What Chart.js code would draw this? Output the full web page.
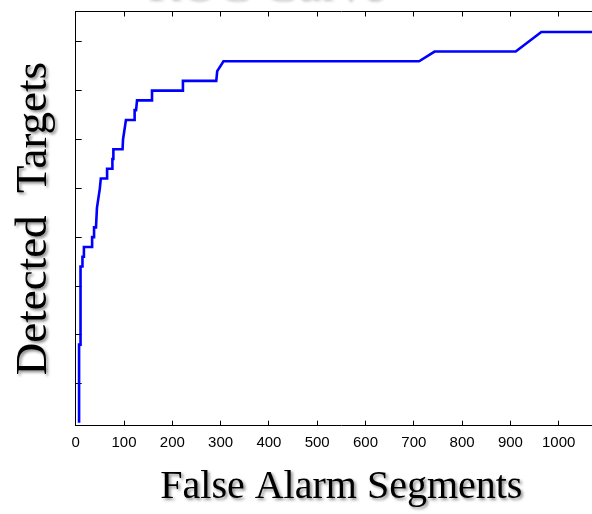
<!DOCTYPE html>
<html>
<head>
<meta charset="utf-8">
<script src="https://cdn.jsdelivr.net/npm/chart.js@4/dist/chart.umd.min.js"></script>
<style>
  html, body { margin: 0; padding: 0; background: #fff; overflow: hidden; }
  #wrap { position: relative; width: 592px; height: 514px; overflow: hidden; }
  #plot { position: absolute; left: 0; top: 0; }
  #heading {
    position: absolute; left: 0; width: 530px; top: -43px;
    font: 50px/50px "Liberation Serif", serif; color: #c4c4c4;
    text-align: center; white-space: nowrap;
    text-shadow: 2px 2px 3px rgba(0,0,0,0.25);
  }
</style>
</head>
<body>
<div id="wrap">
  <canvas id="plot" width="620" height="514"></canvas>
  <div id="heading">ROC Curve</div>
</div>
<script>
// ROC curve: cumulative detected targets against false alarm segments
const falseAlarms = [7, 7, 10, 10, 14, 14, 17, 17, 34, 34, 38, 38, 42, 44, 47, 50, 52, 65, 65, 76, 76, 78, 78, 97, 98, 101, 104, 122, 122, 125, 127, 158, 158, 222, 222, 291, 293, 306, 711, 743, 911, 964, 1100];
const detected    = [1, 9, 9, 17, 17, 18, 18, 19, 19, 20, 20, 21, 21, 23, 24, 25, 26, 26, 27, 27, 28, 28, 29, 29, 30, 31, 32, 32, 33, 33, 34, 34, 35, 35, 36, 36, 37, 38, 38, 39, 39, 41, 41];

const xRange = [0, 1100];
const yRange = [0.7, 43.1];
const xStep = 100;
const yStep = 5;
const lastLabelled = 1000;

const serif = '"Liberation Serif", "Times New Roman", serif';
const sans = '"Liberation Sans", Arial, Helvetica, sans-serif';

// Axis titles get a soft drop shadow
const ScaleBase = Chart.Scale || Object.getPrototypeOf(Chart.LinearScale.prototype).constructor;
const plainDrawTitle = ScaleBase.prototype.drawTitle;
ScaleBase.prototype.drawTitle = function () {
  const ctx = this.ctx;
  ctx.save();
  ctx.shadowColor = 'rgba(0,0,0,0.45)';
  ctx.shadowOffsetX = 2;
  ctx.shadowOffsetY = 2;
  ctx.shadowBlur = 3;
  plainDrawTitle.call(this);
  ctx.restore();
};

const points = falseAlarms.map((x, i) => ({ x, y: detected[i] }));

new Chart(document.getElementById('plot'), {
  type: 'line',
  data: {
    datasets: [{
      data: points,
      borderColor: '#0000ff',
      borderWidth: 2.6,
      pointRadius: 0,
      tension: 0,
      fill: false
    }]
  },
  options: {
    responsive: false,
    animation: false,
    events: [],
    layout: { padding: { left: 0, right: 11.6, top: 0, bottom: 0 } },
    plugins: { legend: { display: false }, tooltip: { enabled: false }, title: { display: false } },
    scales: {
      x: {
        type: 'linear', position: 'bottom',
        min: xRange[0], max: xRange[1],
        afterFit: s => { s.height = 88.3; },
        ticks: { stepSize: xStep, includeBounds: false, color: '#000', padding: 13,
                 font: { family: sans, size: 15 }, maxRotation: 0,
                 callback: v => (v <= lastLabelled ? String(v) : '') },
        grid: { drawOnChartArea: false, tickLength: -5, color: '#000', tickColor: '#000' },
        border: { display: true, color: '#000', width: 1 },
        title: { display: true, text: 'False Alarm Segments', color: '#000',
                 font: { family: serif, size: 40 }, padding: { top: 0, bottom: 3 } }
      },
      x2: {
        type: 'linear', position: 'top',
        min: xRange[0], max: xRange[1],
        afterFit: s => { s.height = 11.5; },
        ticks: { stepSize: xStep, includeBounds: false, display: false },
        grid: { drawOnChartArea: false, tickLength: -5, color: '#000', tickColor: '#000' },
        border: { display: true, color: '#000', width: 1 }
      },
      y: {
        type: 'linear', position: 'left',
        min: yRange[0], max: yRange[1],
        afterFit: s => { s.width = 75.7; },
        ticks: { stepSize: yStep, includeBounds: false, display: false },
        grid: { drawOnChartArea: false, tickLength: -6, color: '#000', tickColor: '#000' },
        border: { display: true, color: '#000', width: 1 },
        title: { display: true, text: 'Detected  Targets', color: '#000',
                 font: { family: serif, size: 45 }, padding: { top: 7, bottom: 0 } }
      }
    }
  }
});
</script>
</body>
</html>
